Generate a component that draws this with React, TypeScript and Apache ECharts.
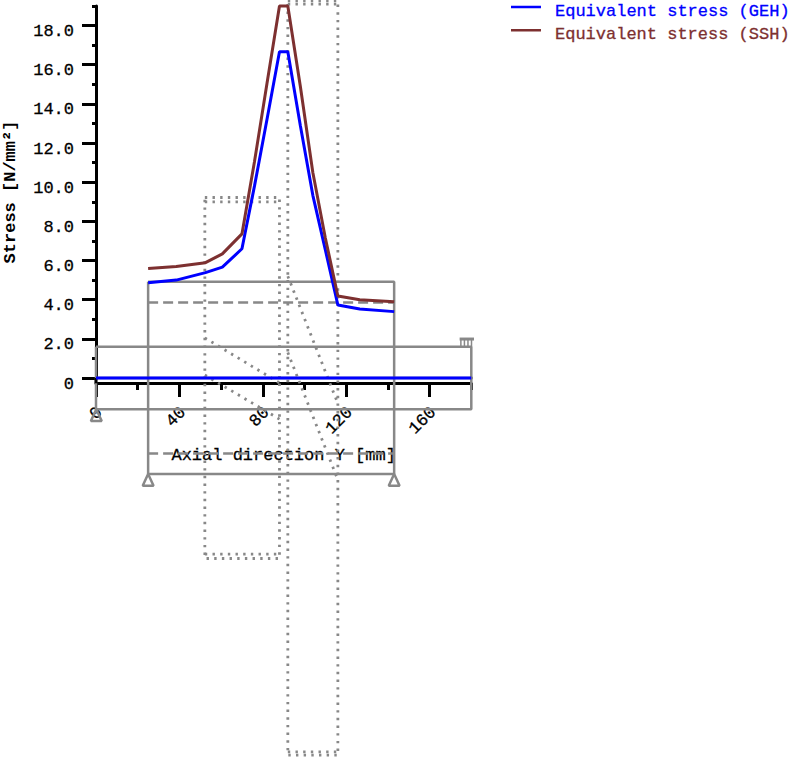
import React, { useEffect, useRef } from "react";
import * as echarts from "echarts";

const FONT = "'Liberation Mono', monospace";
const GEH_NAME = "Equivalent stress (GEH)";
const SSH_NAME = "Equivalent stress (SSH)";
const BLUE = "#0000ff";
const BROWN = "#7d3030";
const GRAY = "#888888";

const xTicks = [0, 40, 80, 120, 160];
const xMinorTicks = [20, 60, 100, 140, 180];
const yTicks = [0, 2, 4, 6, 8, 10, 12, 14, 16, 18];
const yMinorTicks = [1, 3, 5, 7, 9, 11, 13, 15, 17, 19];

const gehValues: number[][] = [
  [25, 4.87], [38.5, 5.0], [52.5, 5.38], [60.6, 5.66], [70, 6.6], [76, 9.8], [82, 13.2], [88, 16.66], [92, 16.66],
  [98, 12.9], [104, 9.33], [110, 6.54], [116, 3.73], [126.5, 3.52], [143, 3.39],
];
const sshValues: number[][] = [
  [25, 5.59], [38.5, 5.69], [52.5, 5.89], [60.6, 6.34], [70, 7.36], [76, 11.04], [82, 15.04], [88, 19.0], [92, 19.0],
  [98, 14.9], [104, 10.5], [110, 7.15], [116, 4.19], [126.5, 4.0], [143, 3.9],
];
const shaftAxis = [[0, 0], [180, 0]];

const centerLine = [[0, 0], [188.8, 0]];
const shaftOuter = [[0, 1.6], [180, 1.6], [180, -1.6], [0, -1.6], [0, 1.6]];
const bearingBox = [[25, 4.92], [143, 4.92], [143, -4.9], [25, -4.9], [25, 4.92]];
const boreTop = [[25, 3.85], [143, 3.85]];
const boreBottom = [[25, -3.85], [143, -3.85]];
const yAxisStub = [[0, 0], [0, -0.27]];

const support1 = [[0, -1.6], [-2.6, -2.2], [2.6, -2.2], [0, -1.6]];
const support2 = [[25, -4.9], [22.4, -5.5], [27.6, -5.5], [25, -4.9]];
const support3 = [[143, -4.9], [140.4, -5.5], [145.6, -5.5], [143, -4.9]];
const clampTop = [[174.4, 1.99], [185.4, 1.99]];
const clampTeeth = [175, 176.7, 178.4, 180.1, 181.8, 183.5, 185.2];

const gear1Outer = [[52.2, 9.22], [88, 9.22], [88, -9.22], [52.2, -9.22], [52.2, 9.22]];
const gear1InnerTop = [[52.2, 9.0], [88, 9.0]];
const gear1InnerBottom = [[52.2, -9.0], [88, -9.0]];
const gear1DiagA = [[52.2, 2.05], [88, -0.25]];
const gear1DiagB = [[52.2, 0.15], [88, -2.1]];
const gear2Outer = [[92, 19.26], [116, 19.26], [116, -19.26], [92, -19.26], [92, 19.26]];
const gear2InnerTop = [[92, 19.1], [116, 19.1]];
const gear2InnerBottom = [[92, -19.1], [116, -19.1]];
const gear2DiagA = [[92, 5.2], [116, -1.3]];
const gear2DiagB = [[92, 1.3], [116, -5.2]];

function plain(data: number[][], lineStyle: object, z = 1) {
  return {
    type: "line", data, symbol: "none", clip: false, silent: true, z,
    lineStyle, animation: false,
  };
}

const legendIcon = "path://M0 0H30V2.5H0Z M39 12H39.01V12.01H39Z";
const heavy = { textBorderWidth: 0.3 };

export default function App() {
  const ref = useRef<HTMLDivElement>(null);
  useEffect(() => {
    const chart = echarts.init(ref.current!, undefined, { renderer: "svg" });
    const solid = { color: GRAY, width: 2.5 };
    const dashed = { color: GRAY, width: 2.5, type: [10, 5] };
    const dotted = { color: GRAY, width: 2.8, type: [2.4, 5.27] };
    const black = { color: "#000", width: 3 };
    const teeth = clampTeeth.map((x) => plain([[x, 1.99], [x, 1.6]], { color: GRAY, width: 1.5 }));
    const sharedX = {
      type: "value", min: 0, max: 180, position: "bottom", offset: 5,
      splitLine: { show: false },
    };
    const sharedY = { type: "value", min: 0, max: 19, splitLine: { show: false } };
    const hidden = { show: false };
    chart.setOption({
      animation: false,
      backgroundColor: "#fff",
      textStyle: { fontFamily: FONT },
      grid: [
        { left: 96, top: 6, width: 375.3, height: 372, containLabel: false, outerBoundsMode: "none" },
        { left: 54.6, top: 6, width: 417, height: 372, containLabel: false, outerBoundsMode: "none" },
      ],
      legend: {
        left: 511, top: 3, padding: 0, orient: "vertical", icon: legendIcon, itemWidth: 39, itemHeight: 12, itemGap: 6,
        data: [
          { name: GEH_NAME, textStyle: { color: BLUE, textBorderColor: BLUE, ...heavy } },
          { name: SSH_NAME, textStyle: { color: BROWN, textBorderColor: BROWN, ...heavy } },
        ],
        textStyle: { fontFamily: FONT, fontSize: 17 },
        selectedMode: false,
      },
      xAxis: [
        {
          ...sharedX,
          axisLine: { show: true, onZero: false, lineStyle: { color: "#000", width: 3 } },
          axisTick: { show: true, length: 14, lineStyle: { color: "#000", width: 3 }, customValues: xTicks },
          axisLabel: {
            rotate: 45, margin: 23, fontFamily: FONT, fontSize: 17, color: "#000",
            textBorderColor: "#000", ...heavy,
            hideOverlap: false, customValues: xTicks, verticalAlign: "top", lineHeight: 11,
          },
          name: "Axial direction Y [mm]", nameLocation: "middle", nameGap: 64,
          nameTextStyle: { fontFamily: FONT, fontSize: 17, color: "#000", textBorderColor: "#000", ...heavy },
        },
        {
          ...sharedX,
          axisLine: { show: false, onZero: false },
          axisTick: { show: true, length: 7, lineStyle: { color: "#000", width: 3 }, customValues: xMinorTicks },
          axisLabel: { show: false },
        },
        { type: "value", gridIndex: 1, min: -20, max: 180, ...hidden },
      ],
      yAxis: [
        {
          ...sharedY,
          axisLine: { show: true, onZero: false, lineStyle: { color: "#000", width: 3 } },
          axisTick: { show: true, length: 14, lineStyle: { color: "#000", width: 3 }, customValues: yTicks },
          axisLabel: {
            margin: 22, fontFamily: FONT, fontSize: 17, color: "#000",
            textBorderColor: "#000", ...heavy,
            customValues: yTicks, verticalAlign: "top", lineHeight: 12,
            formatter: (v: number) => (v === 0 ? "0" : v.toFixed(1)),
          },
          name: "Stress [N/mm²]", nameLocation: "middle", nameGap: 77, nameRotate: 90,
          nameTextStyle: { fontFamily: FONT, fontSize: 17, fontWeight: "bold", color: "#000" },
        },
        {
          ...sharedY,
          position: "left",
          axisLine: { show: false, onZero: false },
          axisTick: { show: true, length: 4, lineStyle: { color: "#000", width: 3 }, customValues: yMinorTicks },
          axisLabel: { show: false },
        },
        { type: "value", gridIndex: 1, min: 0, max: 19, ...hidden },
      ],
      series: [
        plain(gear1Outer, dotted), plain(gear1InnerTop, dotted), plain(gear1InnerBottom, dotted),
        plain(gear1DiagA, dotted), plain(gear1DiagB, dotted),
        plain(gear2Outer, dotted), plain(gear2InnerTop, dotted), plain(gear2InnerBottom, dotted),
        plain(gear2DiagA, dotted), plain(gear2DiagB, dotted),
        plain(centerLine, solid), plain(shaftOuter, solid), plain(bearingBox, solid),
        plain(boreTop, dashed), plain(boreBottom, dashed),
        { ...plain(support1, solid), xAxisIndex: 2, yAxisIndex: 2 },
        plain(support2, solid), plain(support3, solid),
        plain(clampTop, { color: GRAY, width: 3 }), ...teeth,
        plain(yAxisStub, black, 3),
        plain(shaftAxis, { color: BLUE, width: 3 }, 3),
        { type: "line", name: GEH_NAME, data: gehValues, symbol: "none", clip: false, z: 4,
          itemStyle: { color: BLUE }, lineStyle: { color: BLUE, width: 3 } },
        { type: "line", name: SSH_NAME, data: sshValues, symbol: "none", clip: false, z: 4,
          itemStyle: { color: BROWN }, lineStyle: { color: BROWN, width: 3 } },
      ],
    });
    return () => chart.dispose();
  }, []);
  return <div ref={ref} style={{ position: "absolute", left: 0, top: 0, width: 790, height: 758 }} />;
}
